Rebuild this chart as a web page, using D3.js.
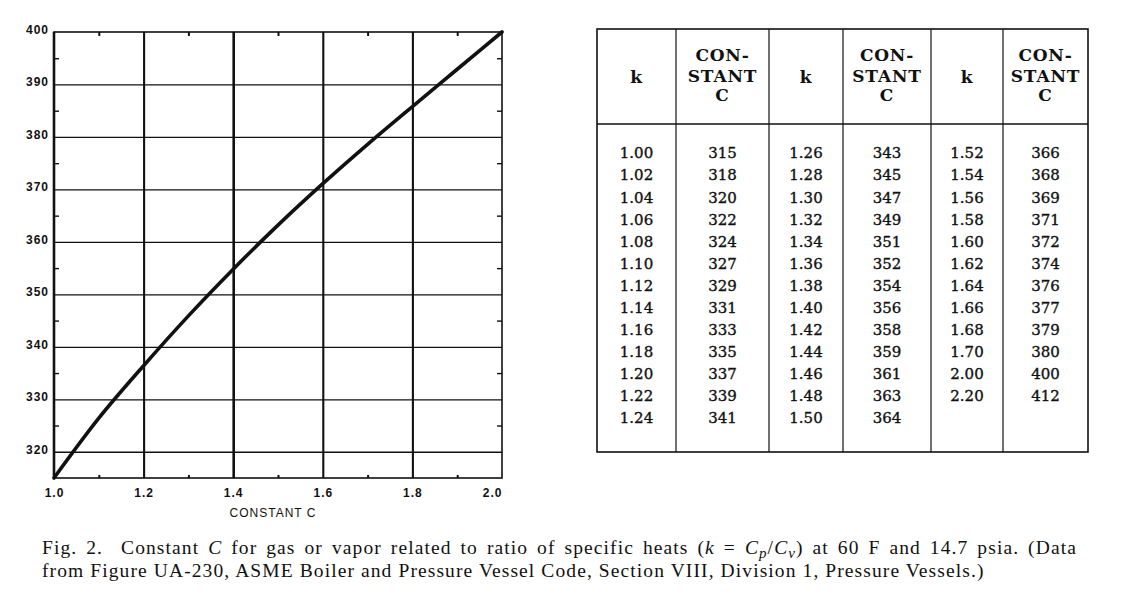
<!DOCTYPE html>
<html>
<head>
<meta charset="utf-8">
<script src="https://cdn.jsdelivr.net/npm/d3@7"></script>
<style>
  body { margin: 0; background: #fff; }
  .lbl text { font-family: "Liberation Sans", Arial, sans-serif; font-size: 12px; font-weight: bold; letter-spacing: 1px; fill: #111; }
  .tbl-head { font-family: "DejaVu Serif", serif; font-size: 17px; font-weight: bold; letter-spacing: 0.8px; fill: #111; }
  .tbl-cell { font-family: "DejaVu Serif", serif; font-size: 15px; fill: #111; stroke: #111; stroke-width: 0.35px; }
  .caption { font-family: "Liberation Serif", "Times New Roman", serif; font-size: 19.5px; letter-spacing: 1.1px; fill: #111; white-space: pre; }
</style>
</head>
<body>
<script>
// ratio of specific heats k and constant C (table in the figure)
const kValues = [
  1.00, 1.02, 1.04, 1.06, 1.08, 1.10, 1.12, 1.14, 1.16, 1.18, 1.20, 1.22, 1.24,
  1.26, 1.28, 1.30, 1.32, 1.34, 1.36, 1.38, 1.40, 1.42, 1.44, 1.46, 1.48, 1.50,
  1.52, 1.54, 1.56, 1.58, 1.60, 1.62, 1.64, 1.66, 1.68, 1.70, 2.00, 2.20
]
const cValues = [
  315, 318, 320, 322, 324, 327, 329, 331, 333, 335, 337, 339, 341,
  343, 345, 347, 349, 351, 352, 354, 356, 358, 359, 361, 363, 364,
  366, 368, 369, 371, 372, 374, 376, 377, 379, 380, 400, 412
]

// the plotted curve
const curveK = [1.0, 1.1, 1.2, 1.3, 1.4, 1.5, 1.6, 1.7, 1.8, 1.9, 2.0]
const curveC = [315, 326.4, 336.4, 345.9, 354.8, 363.2, 371.1, 378.6, 385.8, 392.9, 400]

// axis ticks
const yLabels = [320, 330, 340, 350, 360, 370, 380, 390, 400]
const yGrid = [320, 330, 340, 350, 360, 370, 380, 390]
const yMinor = [325, 335, 345, 355, 365, 375, 385, 395]
const xLabels = [1.0, 1.2, 1.4, 1.6, 1.8, 2.0]
const xGrid = [1.2, 1.4, 1.6, 1.8]
const xMinor = [1.1, 1.3, 1.5, 1.7, 1.9]
const xTitle = 'CONSTANT C'

const headerLabels = [['k'], ['CON-', 'STANT', 'C']]
const rowsPerGroup = 13

const W = 1128, H = 600
const svg = d3.select('body').append('svg')
  .attr('width', W).attr('height', H)

svg.append('rect').attr('width', W).attr('height', H).attr('fill', '#fff')

// ---------- chart ----------
const plot = { left: 54, right: 502, top: 32, bottom: 478 }
const pw = plot.right - plot.left
const ph = plot.bottom - plot.top

const x = d3.scaleLinear().domain([1.0, 2.0]).range([plot.left, plot.right])
const y = d3.scaleLinear().domain([315, 400]).range([plot.bottom, plot.top])

const ink = '#111'

function noDomain(g) { g.select('.domain').remove() }

// horizontal grid
svg.append('g')
  .attr('transform', `translate(${plot.left},0)`)
  .call(d3.axisLeft(y).tickValues(yGrid).tickSize(-pw).tickFormat(''))
  .call(noDomain)
  .selectAll('line').attr('stroke', ink).attr('stroke-width', 1.3)

// vertical grid (heavier)
svg.append('g')
  .attr('transform', `translate(0,${plot.bottom})`)
  .call(d3.axisBottom(x).tickValues(xGrid).tickSize(-ph).tickFormat(''))
  .call(noDomain)
  .selectAll('line').attr('stroke', ink).attr('stroke-width', d => d === 1.4 ? 2.6 : 2.1)

// minor ticks on all four sides
svg.append('g').attr('transform', `translate(${plot.left},0)`)
  .call(d3.axisLeft(y).tickValues(yMinor).tickSize(-5).tickFormat(''))
  .call(noDomain).selectAll('line').attr('stroke', ink).attr('stroke-width', 1.4)
svg.append('g').attr('transform', `translate(${plot.right},0)`)
  .call(d3.axisRight(y).tickValues(yMinor).tickSize(-5).tickFormat(''))
  .call(noDomain).selectAll('line').attr('stroke', ink).attr('stroke-width', 1.4)
svg.append('g').attr('transform', `translate(0,${plot.top})`)
  .call(d3.axisTop(x).tickValues(xMinor).tickSize(-4).tickFormat(''))
  .call(noDomain).selectAll('line').attr('stroke', ink).attr('stroke-width', 2)
svg.append('g').attr('transform', `translate(0,${plot.bottom})`)
  .call(d3.axisBottom(x).tickValues(xMinor).tickSize(-3).tickFormat(''))
  .call(noDomain).selectAll('line').attr('stroke', ink).attr('stroke-width', 2)

// frame
svg.append('rect')
  .attr('x', plot.left).attr('y', plot.top)
  .attr('width', pw).attr('height', ph)
  .attr('fill', 'none').attr('stroke', ink).attr('stroke-width', 1.6)
svg.append('line')
  .attr('x1', plot.left).attr('x2', plot.left)
  .attr('y1', plot.top).attr('y2', plot.bottom)
  .attr('stroke', ink).attr('stroke-width', 2.6)

// tick labels
svg.append('g').attr('class', 'lbl')
  .attr('transform', `translate(${plot.left},0)`)
  .call(d3.axisLeft(y).tickValues(yLabels).tickSize(0).tickPadding(5))
  .call(noDomain)
  .selectAll('text').attr('dy', '0.12em')

const xl = svg.append('g').attr('class', 'lbl')
  .attr('transform', `translate(0,${plot.bottom})`)
  .call(d3.axisBottom(x).tickValues(xLabels).tickSize(0).tickPadding(10).tickFormat(d3.format('.1f')))
  .call(noDomain)
xl.selectAll('text').filter(d => d === 2.0)
  .attr('text-anchor', 'end').attr('dx', 0)

svg.append('g').attr('class', 'lbl')
  .append('text')
  .attr('x', 273).attr('y', 517)
  .attr('text-anchor', 'middle')
  .style('font-size', '12px').style('font-weight', 'normal').style('letter-spacing', '1px')
  .text(xTitle)

// curve
const curveData = curveK.map((k, i) => ({ k, c: curveC[i] }))

svg.append('path')
  .datum(curveData)
  .attr('fill', 'none')
  .attr('stroke', ink)
  .attr('stroke-width', 3.6)
  .attr('stroke-linecap', 'round')
  .attr('d', d3.line().x(d => x(d.k)).y(d => y(d.c)).curve(d3.curveMonotoneX))

// ---------- table ----------
const rows = kValues.map((k, i) => ({ k, c: cValues[i] }))
const cols = [597, 676, 769, 843, 931, 1003, 1088]
const tbl = { top: 29, head: 124, bottom: 452 }
const rowY = d3.scaleLinear().domain([0, rowsPerGroup - 1]).range([153, 418])

function groupFn(data, count) {
  const clone = [].concat(data)
  const result = []
  while (clone.length) result.push(clone.splice(0, count))
  return result
}
const groups = groupFn(rows, rowsPerGroup)

const t = svg.append('g')

t.append('rect')
  .attr('x', cols[0]).attr('y', tbl.top)
  .attr('width', cols[cols.length - 1] - cols[0])
  .attr('height', tbl.bottom - tbl.top)
  .attr('fill', 'none').attr('stroke', ink).attr('stroke-width', 1.6)

t.selectAll('line.col')
  .data(cols.slice(1, -1))
  .join('line')
  .attr('class', 'col')
  .attr('x1', d => d).attr('x2', d => d)
  .attr('y1', tbl.top).attr('y2', tbl.bottom)
  .attr('stroke', ink).attr('stroke-width', 1.2)

t.append('line')
  .attr('x1', cols[0]).attr('x2', cols[cols.length - 1])
  .attr('y1', tbl.head).attr('y2', tbl.head)
  .attr('stroke', ink).attr('stroke-width', 1.5)

const colCenter = i => (cols[i] + cols[i + 1]) / 2

// header
d3.range(cols.length - 1).forEach(i => {
  const lines = headerLabels[i % 2]
  const lineY = lines.length === 1 ? [77] : [55, 76, 95]
  t.append('g').selectAll('text')
    .data(lines)
    .join('text')
    .attr('class', 'tbl-head')
    .attr('x', colCenter(i))
    .attr('y', (d, j) => lineY[j])
    .attr('dy', '0.36em')
    .attr('text-anchor', 'middle')
    .text(d => d)
})

// body
groups.forEach((g, gi) => {
  const cell = t.append('g')
  cell.selectAll('text.k')
    .data(g)
    .join('text')
    .attr('class', 'tbl-cell k')
    .attr('x', colCenter(gi * 2))
    .attr('y', (d, i) => rowY(i))
    .attr('dy', '0.36em')
    .attr('text-anchor', 'middle')
    .text(d => d3.format('.2f')(d.k))
  cell.selectAll('text.c')
    .data(g)
    .join('text')
    .attr('class', 'tbl-cell c')
    .attr('x', colCenter(gi * 2 + 1))
    .attr('y', (d, i) => rowY(i))
    .attr('dy', '0.36em')
    .attr('text-anchor', 'middle')
    .text(d => d.c)
})

// ---------- caption ----------
const cap1 = svg.append('text').attr('class', 'caption')
  .attr('x', 42).attr('y', 554)
  .style('word-spacing', '3px')
cap1.append('tspan').text('Fig. 2.  Constant ')
cap1.append('tspan').attr('font-style', 'italic').text('C')
cap1.append('tspan').text(' for gas or vapor related to ratio of specific heats (')
cap1.append('tspan').attr('font-style', 'italic').text('k')
cap1.append('tspan').text(' = ')
cap1.append('tspan').attr('font-style', 'italic').text('C')
cap1.append('tspan').attr('font-style', 'italic').attr('font-size', '15px').attr('dy', 4).text('p')
cap1.append('tspan').attr('dy', -4).text('/')
cap1.append('tspan').attr('font-style', 'italic').text('C')
cap1.append('tspan').attr('font-style', 'italic').attr('font-size', '15px').attr('dy', 4).text('v')
cap1.append('tspan').attr('dy', -4).text(') at 60 F and 14.7 psia. (Data')

svg.append('text').attr('class', 'caption').attr('x', 42).attr('y', 577)
  .text('from Figure UA-230, ASME Boiler and Pressure Vessel Code, Section VIII, Division 1, Pressure Vessels.)')
</script>
</body>
</html>
